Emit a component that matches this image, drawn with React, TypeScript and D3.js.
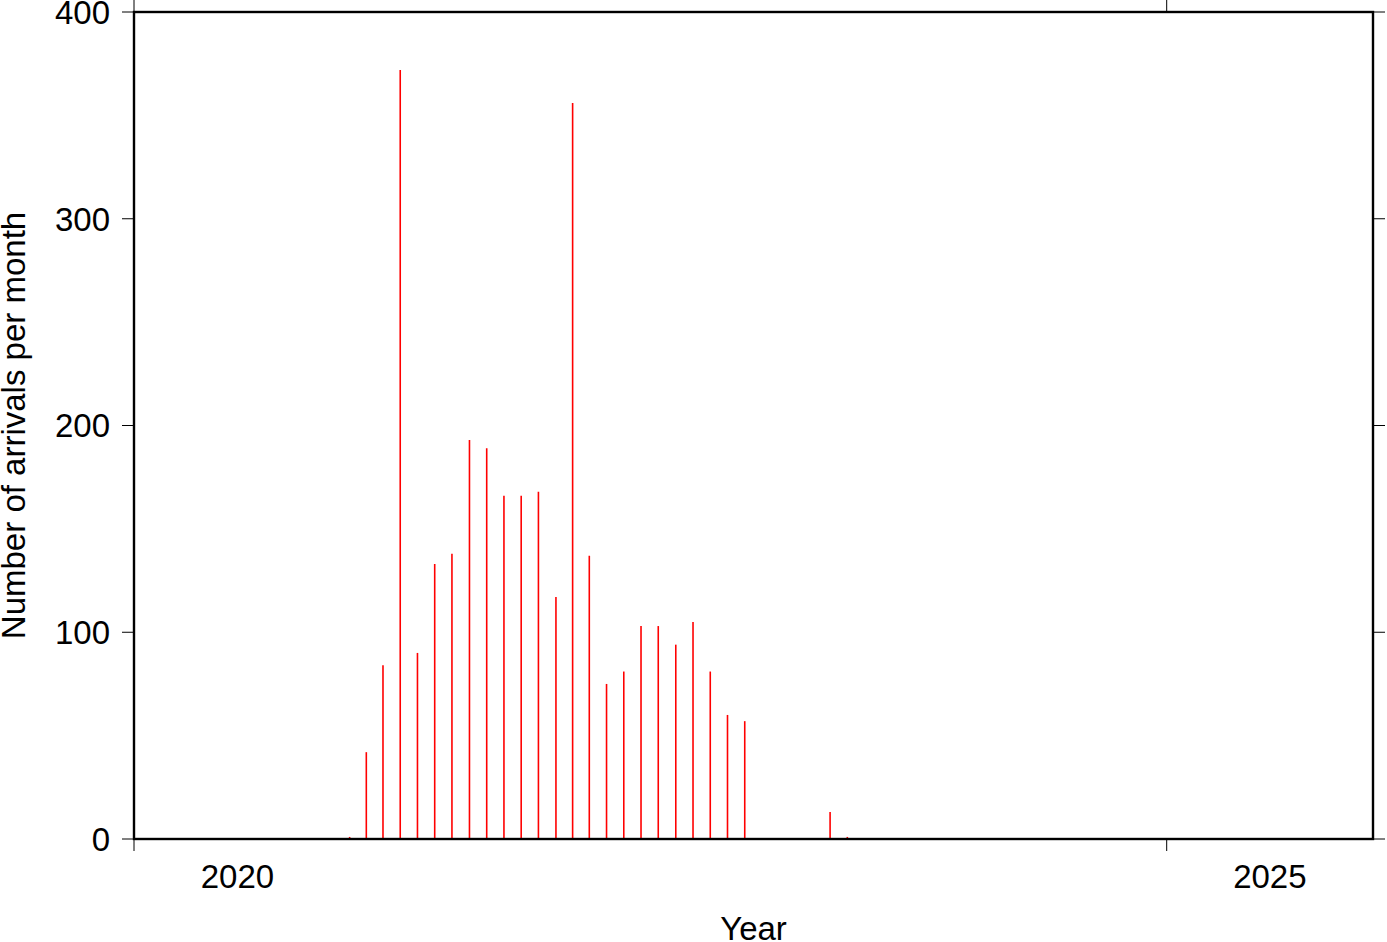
import React from "react";
import * as d3 from "d3";

const months: string[] = [
  "2021-01", "2021-02", "2021-03", "2021-04", "2021-05", "2021-06",
  "2021-07", "2021-08", "2021-09", "2021-10", "2021-11", "2021-12",
  "2022-01", "2022-02", "2022-03", "2022-04", "2022-05", "2022-06",
  "2022-07", "2022-08", "2022-09", "2022-10", "2022-11", "2022-12",
  "2023-01", "2023-02", "2023-03", "2023-04", "2023-05", "2023-06",
];
const counts: number[] = [
  1, 42, 84, 372, 90, 133, 138, 193, 189, 166, 166, 168,
  117, 356, 137, 75, 81, 103, 103, 94, 105, 81, 60, 57,
  0, 0, 0, 0, 13, 1,
];
const yTicks: number[] = [0, 100, 200, 300, 400];
const xTickYears: number[] = [2020, 2025];
const xLabelYears: number[] = [2020, 2025];

const W = 1387;
const H = 942;
const L = 134, R = 1373, T = 12, B = 839;
const FONT = "'Liberation Sans', Arial, Helvetica, sans-serif";
const FS = 33;

export default function App() {
  const x = d3.scaleTime()
    .domain([new Date(2020, 0, 1), new Date(2026, 0, 1)])
    .range([L, R]);
  const y = d3.scaleLinear().domain([0, 400]).range([B, T]);

  const monthMid = (m: string) => {
    const [yy, mm] = m.split("-").map(Number);
    const s = new Date(yy, mm - 1, 1).getTime();
    const e = new Date(yy, mm, 1).getTime();
    return new Date((s + e) / 2);
  };
  const yearMid = (yr: number) =>
    new Date((new Date(yr, 0, 1).getTime() + new Date(yr + 1, 0, 1).getTime()) / 2);

  const tick = 12;
  return (
    <div style={{ position: "absolute", left: 0, top: 0 }}>
      <svg width={W} height={H} style={{ display: "block", background: "#fff" }}>
        {months.map((m, i) =>
          counts[i] > 0 ? (
            <line key={m} x1={x(monthMid(m))} x2={x(monthMid(m))} y1={y(0)} y2={y(counts[i])}
              stroke="#ff0000" strokeWidth={1.6} />
          ) : null
        )}
        <rect x={L} y={T} width={R - L} height={B - T} fill="none" stroke="#000" strokeWidth={2.4} />
        {yTicks.map((v) => (
          <g key={v}>
            <line x1={L - tick} x2={L} y1={y(v)} y2={y(v)} stroke="#000" strokeWidth={1} />
            <line x1={R} x2={R + tick} y1={y(v)} y2={y(v)} stroke="#000" strokeWidth={1} />
            <text x={L - 24} y={y(v)} dy="0.36em" textAnchor="end" fontFamily={FONT} fontSize={FS} fill="#000">{v}</text>
          </g>
        ))}
        {xTickYears.map((yr) => {
          const px = x(new Date(yr, 0, 1));
          return (
            <g key={yr}>
              <line x1={px} x2={px} y1={B} y2={B + tick} stroke="#000" strokeWidth={1} />
              <line x1={px} x2={px} y1={T - tick} y2={T} stroke="#000" strokeWidth={1} />
            </g>
          );
        })}
        {xLabelYears.map((yr) => (
          <text key={yr} x={x(yearMid(yr))} y={888} textAnchor="middle" fontFamily={FONT} fontSize={FS} fill="#000">{yr}</text>
        ))}
        <text x={(L + R) / 2} y={940} textAnchor="middle" fontFamily={FONT} fontSize={FS} fill="#000">Year</text>
        <text transform={`translate(25,${(T + B) / 2}) rotate(-90)`} textAnchor="middle" fontFamily={FONT} fontSize={FS} fill="#000">Number of arrivals per month</text>
      </svg>
    </div>
  );
}
